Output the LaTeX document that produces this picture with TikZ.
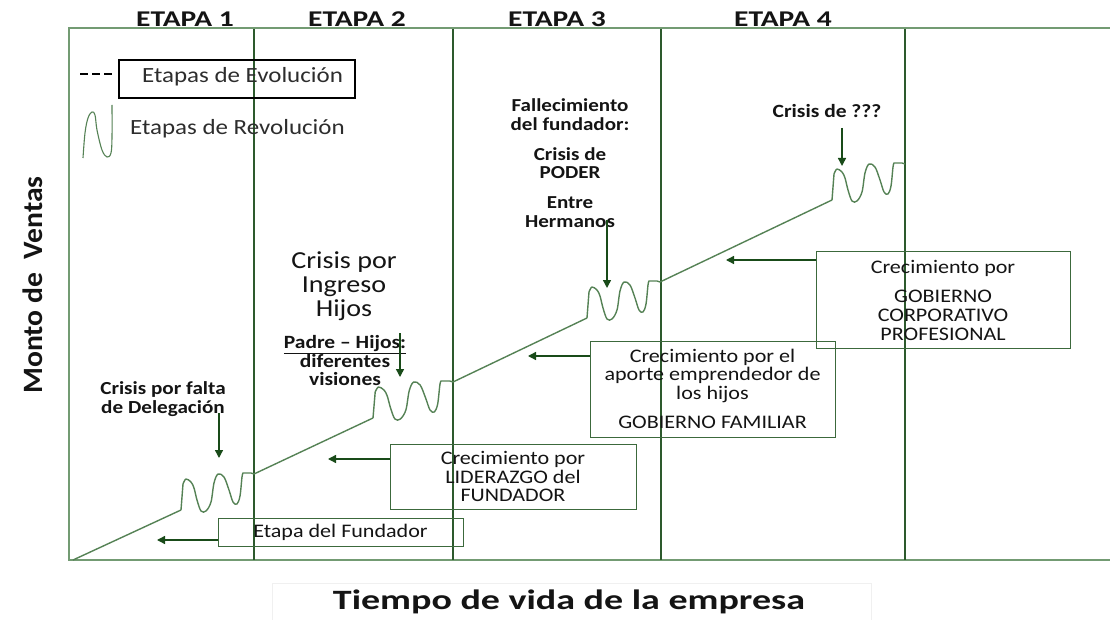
\documentclass[tikz,border=0pt]{standalone}
\usepackage{fontspec}
\setmainfont{Carlito}[FakeStretch=1.15]
\usetikzlibrary{arrows.meta}
\definecolor{framegreen}{RGB}{115,155,115}
\definecolor{divgreen}{RGB}{45,90,45}
\definecolor{wavegreen}{RGB}{85,130,85}
\definecolor{boxgreen}{RGB}{60,105,60}
\definecolor{arrowgreen}{RGB}{25,75,25}
\definecolor{txt}{RGB}{20,20,20}
\definecolor{legtxt}{RGB}{45,45,45}
\newcommand\fsz[2]{\fontsize{#1}{#2}\selectfont}
\tikzset{
  frameline/.style={framegreen, line width=1.6pt},
  divider/.style={divgreen, line width=1.2pt},
  growth/.style={wavegreen, line width=1.4pt, line join=round},
  growthbox/.style={draw=boxgreen, line width=1pt, align=center, text=txt, inner sep=0pt},
  crisisarrow/.style={arrowgreen, line width=1.4pt, -{Triangle[length=8pt,width=8pt]}},
  lbl/.style={text=txt, align=center, inner sep=0pt},
  crisiswave/.pic={\draw[growth] (0,0) -- (2,-26) -- plot[smooth,tension=0.55] coordinates {(2,-26) (5,-31) (10,-28) (13,-22) (16,-10) (20,1) (25,1) (30,-8) (33,-27) (37,-36) (43,-33) (48,-20) (52,-8) (56,-6) (59,-14) (61,-33) (62,-37)} -- (70,-37) -- (73,-36);}
}
\begin{document}
\begin{tikzpicture}[x=1pt,y=-1pt]
\useasboundingbox (0,0) rectangle (1110,620);
\fill[white] (0,0) rectangle (1110,620);

% faint box behind x-axis title
\draw[black!6] (272,583) rectangle (871,640);

% frame
\coordinate (tl) at (69,28);
\coordinate (tr) at (1110,28);
\coordinate (bl) at (69,560);
\coordinate (br) at (1110,560);
\draw[frameline] (tr) -- (tl) -- (bl) -- (br);
\foreach \x in {254,453,661,905} \draw[divider] (\x,29) -- (\x,560);

% stage titles
\node[lbl, font=\fsz{22.5}{26}\bfseries] (e1) at (185,19) {\scalebox{1.14}[1]{ETAPA 1}};
\node[lbl, font=\fsz{22.5}{26}\bfseries] (e2) at (357,19) {\scalebox{1.14}[1]{ETAPA 2}};
\node[lbl, font=\fsz{22.5}{26}\bfseries] (e3) at (557,19) {\scalebox{1.14}[1]{ETAPA 3}};
\node[lbl, font=\fsz{22.5}{26}\bfseries] (e4) at (783,19) {\scalebox{1.14}[1]{ETAPA 4}};

% legend
\coordinate (d1) at (80,74);
\coordinate (d2) at (112,74);
\draw[black, line width=2pt, dash pattern=on 8pt off 4pt] (d1) -- (d2);
\node[draw=black, line width=2pt, minimum width=236pt, minimum height=38pt, inner sep=0pt] (legbox) at (237,79) {};
\node[lbl, text=legtxt, anchor=base west, font=\fsz{21.7}{24}] (legevo) at (142,83) {Etapas de Evolución};
\draw[growth, line width=1.1pt] plot[smooth, tension=0.6] coordinates {(83,158) (85,133) (88,118) (92,112) (95,115) (97,130) (102,150) (107,157) (111,153) (112,137) (112,105)};
\node[lbl, text=legtxt, anchor=base west, font=\fsz{21.7}{24}] (legrev) at (130,135) {Etapas de Revolución};

% growth line with crisis waves
\coordinate (g0) at (73,560);
\coordinate (w1s) at (181,510);
\coordinate (w1e) at (254,474);
\coordinate (w2s) at (373,418);
\coordinate (w2e) at (453,382);
\coordinate (w3s) at (587,318);
\coordinate (w3e) at (660,282);
\coordinate (w4s) at (832,200);
\draw[growth] (g0) -- (w1s);
\pic at (w1s) {crisiswave};
\draw[growth] (w1e) -- (w2s);
\pic[xscale=1.096] at (w2s) {crisiswave};
\draw[growth] (w2e) -- (w3s);
\pic at (w3s) {crisiswave};
\draw[growth] (w3e) -- (w4s);
\pic at (w4s) {crisiswave};

% crisis labels
\node[lbl, font=\fsz{18.4}{19}\bfseries] (c1) at (163,399) {Crisis por falta\\de Delegación};
\node[lbl, font=\fsz{24.4}{24}] (c2) at (344,286) {Crisis por\\Ingreso\\Hijos};
\node[lbl, font=\fsz{18.7}{18.5}\bfseries] (c2b) at (345,361) {\underline{Padre – Hijos:}\\diferentes\\visiones};
\node[lbl, font=\fsz{18.3}{18.5}\bfseries] (c3) at (570,163) {Fallecimiento\\del fundador:\\[11.5pt]Crisis de\\PODER\\[11.5pt]Entre\\Hermanos};
\node[lbl, font=\fsz{18.7}{20}\bfseries] (c4) at (827,111) {Crisis de ???};

\coordinate (a1s) at (219,413); \coordinate (a1) at (219,458);
\coordinate (a2s) at (400,333); \coordinate (a2) at (400,377);
\coordinate (a3s) at (607,220); \coordinate (a3) at (607,288);
\coordinate (a4s) at (842,128); \coordinate (a4) at (842,166);
\draw[crisisarrow] (a1s) -- (a1);
\draw[crisisarrow] (a2s) -- (a2);
\draw[crisisarrow] (a3s) -- (a3);
\draw[crisisarrow] (a4s) -- (a4);

% growth boxes
\node[growthbox, minimum width=245pt, minimum height=28pt, font=\fsz{19.2}{18.5}] (fund) at (340.5,532) {Etapa del Fundador};
\node[growthbox, minimum width=246pt, minimum height=65pt, font=\fsz{19.2}{18.5}] (lid) at (513,476.5) {Crecimiento por\\LIDERAZGO del\\FUNDADOR};
\node[growthbox, minimum width=245pt, minimum height=96pt, font=\fsz{19.2}{18.5}] (fam) at (712.5,389) {Crecimiento por el\\aporte emprendedor de\\los hijos\\[11pt]GOBIERNO FAMILIAR};
\node[growthbox, minimum width=254pt, minimum height=96pt, font=\fsz{19.2}{19}] (corp) at (943,300) {Crecimiento por\\[10pt]GOBIERNO\\CORPORATIVO\\PROFESIONAL};

\coordinate (t1) at (157,540);
\coordinate (t2) at (328,459);
\coordinate (t3) at (528,356);
\coordinate (t4) at (726,260);
\draw[crisisarrow] (fund.west |- t1) -- (t1);
\draw[crisisarrow] (lid.west |- t2) -- (t2);
\draw[crisisarrow] (fam.west |- t3) -- (t3);
\draw[crisisarrow] (corp.west |- t4) -- (t4);

% axis titles
\node[lbl, rotate=90, font=\fsz{28}{32}\bfseries] (ytitle) at (33,285) {\scalebox{0.92}[1]{Monto de\ \ Ventas}};
\node[lbl, anchor=base, font=\fsz{28}{32}\bfseries] (xtitle) at (569,609) {\scalebox{1.18}[1]{Tiempo de vida de la empresa}};
\end{tikzpicture}
\end{document}
